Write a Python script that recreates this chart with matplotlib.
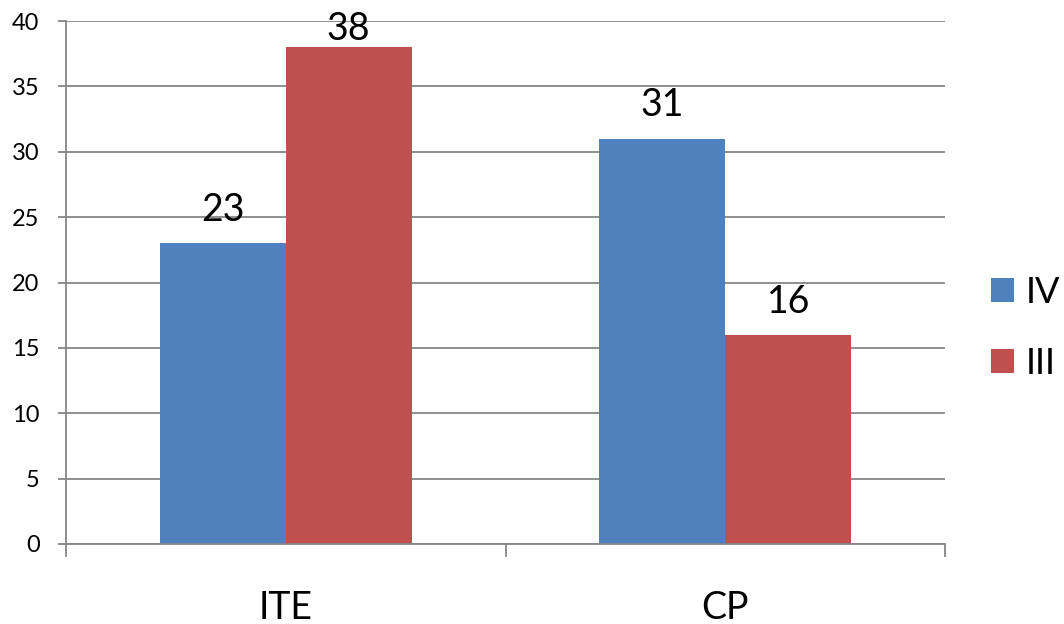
import numpy as np
import matplotlib
matplotlib.use('Agg')
import matplotlib.pyplot as plt

categories = ['ITE', 'CP']
series_names = ['IV', 'III']
iv_values = [23, 31]
iii_values = [38, 16]
y_ticks = [0, 5, 10, 15, 20, 25, 30, 35, 40]

blue = '#4F81BD'
red = '#C0504D'
grey = '#868686'

plt.rcParams['font.family'] = ['Lato', 'DejaVu Sans']

fig = plt.figure(figsize=(10.64, 6.24), dpi=100)
ax = fig.add_axes([66 / 1064, 80 / 624, (945 - 66) / 1064, (544 - 21) / 624])

x = np.arange(len(categories))
w = 126 / 440
b1 = ax.bar(x - w / 2, iv_values, w, color=blue, label=series_names[0], zorder=3)
b2 = ax.bar(x + w / 2, iii_values, w, color=red, label=series_names[1], zorder=3)

ax.set_xlim(-0.5, len(categories) - 0.5)
ax.set_ylim(0, 40)

# labels above bars, pushed down if they would leave the figure (like Excel does)
fig_h = fig.bbox.height
for bars in (b1, b2):
    for r in bars:
        cx = r.get_x() + r.get_width() / 2
        top_px = ax.transData.transform((cx, r.get_height()))[1]
        off = 11
        if top_px + off * 100 / 72 + 38 > fig_h - 9:
            off = (fig_h - 9 - 38 - top_px) * 72 / 100
        ax.annotate(f'{int(r.get_height())}', (cx, r.get_height()),
                    xytext=(0, off), textcoords='offset points', ha='center', va='bottom',
                    fontsize=27, color='black', zorder=5)

ax.set_yticks(y_ticks)
ax.tick_params(axis='y', labelsize=17, length=6, width=1.3, color=grey, pad=13)
ax.set_xticks(x)
ax.set_xticklabels(categories)
ax.tick_params(axis='x', which='major', length=0, labelsize=27, pad=33)
ax.set_xticks(np.arange(len(categories) + 1) - 0.5, minor=True)
ax.tick_params(axis='x', which='minor', length=9, width=1.3, color=grey)

ax.yaxis.grid(True, color=grey, linewidth=1.3, zorder=0)
for s in ['top', 'right']:
    ax.spines[s].set_visible(False)
for s in ['left', 'bottom']:
    ax.spines[s].set_color(grey)
    ax.spines[s].set_linewidth(1.3)
ax.spines['bottom'].set_zorder(4)

fig.legend(handles=[b1, b2], loc='center left', bbox_to_anchor=(991 / 1064, (624 - 328) / 624),
           frameon=False, fontsize=26, handlelength=0.65, handleheight=0.65,
           handletextpad=0.3, labelspacing=1.05, borderpad=0, borderaxespad=0)

fig.savefig('out.png', dpi=100)
